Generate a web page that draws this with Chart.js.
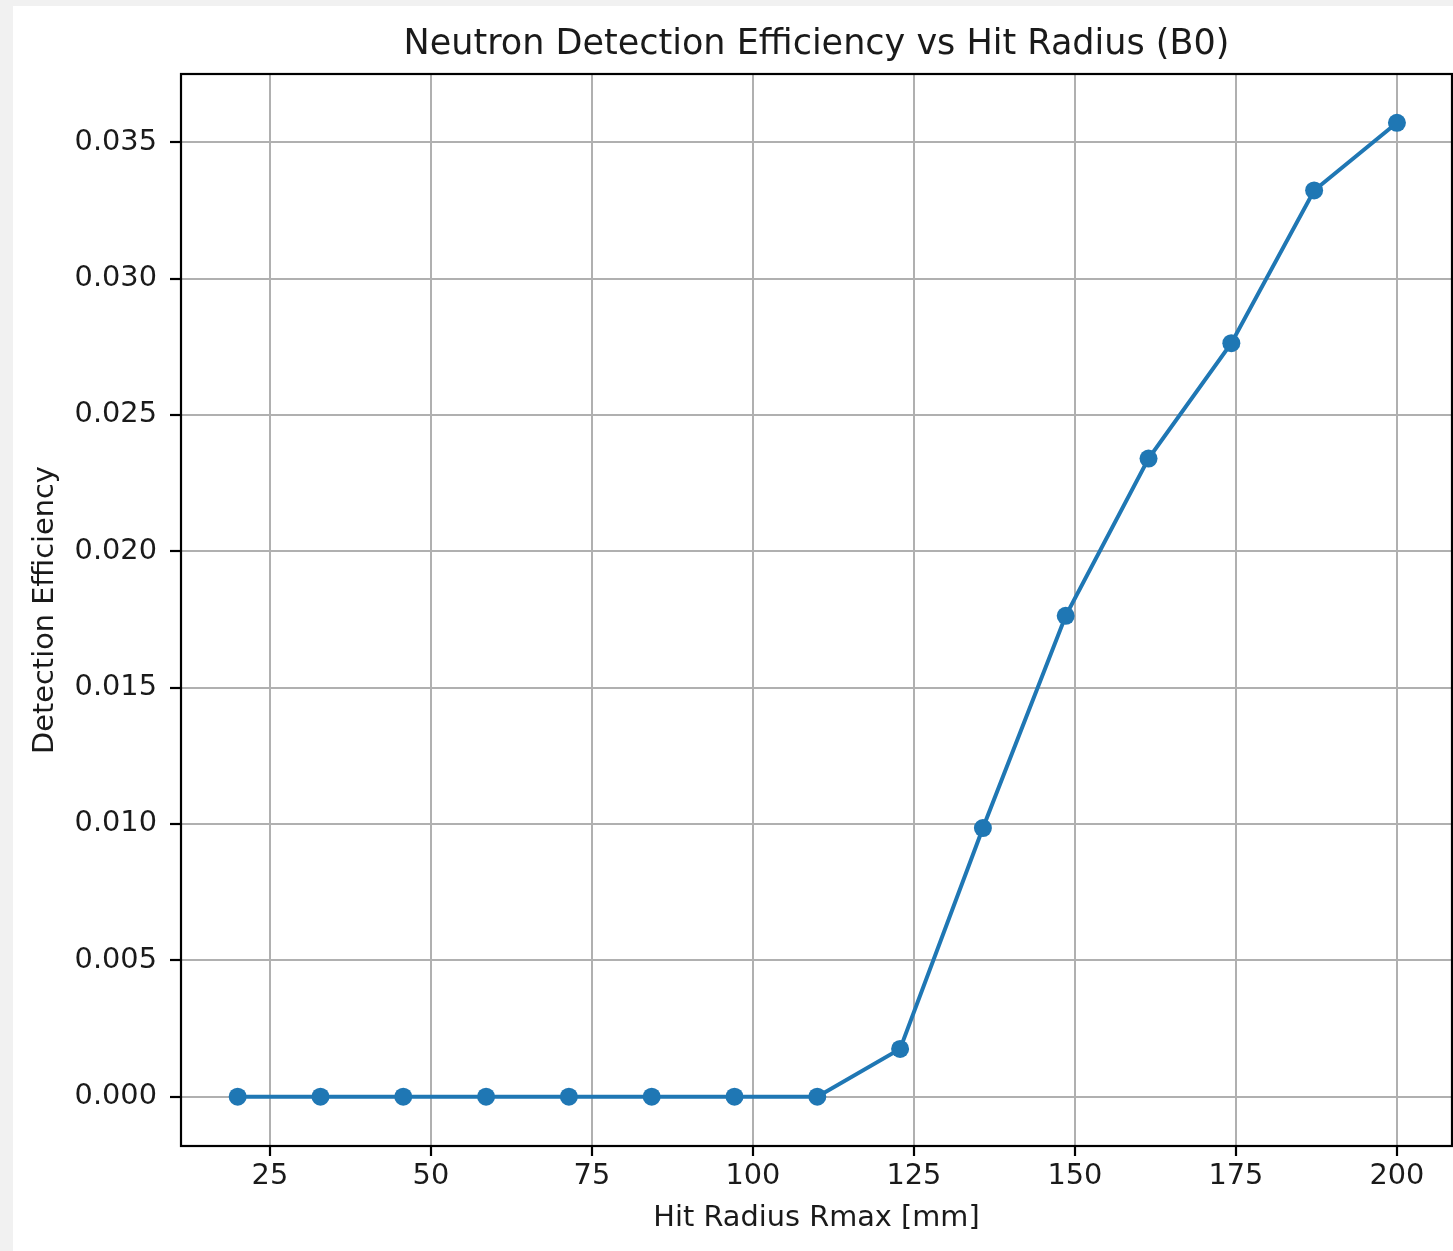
<!DOCTYPE html>
<html>
<head>
<meta charset="utf-8">
<script src="https://cdn.jsdelivr.net/npm/chart.js@4/dist/chart.umd.min.js"></script>
<style>
  html, body { margin: 0; padding: 0; background: #f1f1f1; width: 1453px; height: 1251px; overflow: hidden; }
  #wrap { position: absolute; left: 13px; top: 6px; width: 1440px; height: 1245px; background: #ffffff; }
  canvas { display: block; }
</style>
</head>
<body>
<div id="wrap"><canvas id="c" width="1440" height="1245"></canvas></div>
<script>
// ---- Data ----
const radiusValues = [20, 32.857, 45.714, 58.571, 71.429, 84.286, 97.143, 110, 122.857, 135.714, 148.571, 161.429, 174.286, 187.143, 200];
const efficiencyValues = [0, 0, 0, 0, 0, 0, 0, 0, 0.00175, 0.00985, 0.01763, 0.02340, 0.02763, 0.03323, 0.03571];
const xTickValues = [25, 50, 75, 100, 125, 150, 175, 200];
const yTickValues = [0, 0.005, 0.010, 0.015, 0.020, 0.025, 0.030, 0.035];
const chartTitle = 'Neutron Detection Efficiency vs Hit Radius (B0)';
const xAxisTitle = 'Hit Radius Rmax [mm]';
const yAxisTitle = 'Detection Efficiency';

const points = radiusValues.map((r, i) => ({ x: r, y: efficiencyValues[i] }));

const FONT = 'DejaVu Sans';
const TXT = '#1a1a1a';

const frame = {
  id: 'frame',
  afterDraw(chart) {
    const { ctx, chartArea: a } = chart;
    ctx.save();
    ctx.strokeStyle = '#000';
    ctx.lineWidth = 2.2;
    ctx.strokeRect(a.left, a.top, a.right - a.left, a.bottom - a.top);
    ctx.restore();
  }
};

new Chart(document.getElementById('c'), {
  type: 'line',
  data: {
    datasets: [{
      data: points,
      borderColor: '#1f77b4',
      backgroundColor: '#1f77b4',
      borderWidth: 4,
      pointRadius: 9,
      pointBorderWidth: 0,
      pointBackgroundColor: '#1f77b4',
      tension: 0,
      fill: false
    }]
  },
  options: {
    responsive: false,
    animation: false,
    devicePixelRatio: 1,
    events: [],
    layout: { autoPadding: false, padding: { left: 0, top: 0, right: 1, bottom: 0 } },
    plugins: {
      legend: { display: false },
      tooltip: { enabled: false },
      title: {
        display: true,
        text: chartTitle,
        fullSize: false,
        color: TXT,
        font: { family: FONT, size: 35, weight: 'normal', lineHeight: 1.2 },
        padding: { top: 17.5, bottom: 8.5 }
      }
    },
    scales: {
      x: {
        type: 'linear',
        position: 'bottom',
        min: 11.2,
        max: 208.55,
        afterBuildTicks: (s) => { s.ticks = xTickValues.map(v => ({ value: v })); },
        afterFit: (s) => { s.height = 105; s.paddingLeft = 0; s.paddingRight = 0; },
        ticks: {
          color: TXT,
          font: { family: FONT, size: 28.8 },
          padding: 3,
          maxRotation: 0,
          autoSkip: false,
          callback: (v) => String(v)
        },
        grid: {
          color: '#b0b0b0',
          lineWidth: 2,
          drawTicks: true,
          tickLength: 10,
          tickColor: '#000',
          tickWidth: 2.2
        },
        border: { display: false },
        title: {
          display: true,
          text: xAxisTitle,
          color: TXT,
          font: { family: FONT, size: 28.8, lineHeight: 1.2 },
          padding: { top: 0, bottom: 15.5 }
        }
      },
      y: {
        type: 'linear',
        position: 'left',
        min: -0.00181,
        max: 0.0375,
        afterBuildTicks: (s) => { s.ticks = yTickValues.map(v => ({ value: v })); },
        afterFit: (s) => { s.width = 168; s.paddingTop = 0; s.paddingBottom = 0; },
        ticks: {
          color: TXT,
          font: { family: FONT, size: 28.8 },
          padding: 13,
          autoSkip: false,
          callback: (v) => Number(v).toFixed(3)
        },
        grid: {
          color: '#b0b0b0',
          lineWidth: 2,
          drawTicks: true,
          tickLength: 11,
          tickColor: '#000',
          tickWidth: 2.2
        },
        border: { display: false },
        title: {
          display: true,
          text: yAxisTitle,
          color: TXT,
          font: { family: FONT, size: 28.8, lineHeight: 1.2 },
          padding: { top: 15, bottom: 0 }
        }
      }
    }
  },
  plugins: [frame]
});
</script>
</body>
</html>
